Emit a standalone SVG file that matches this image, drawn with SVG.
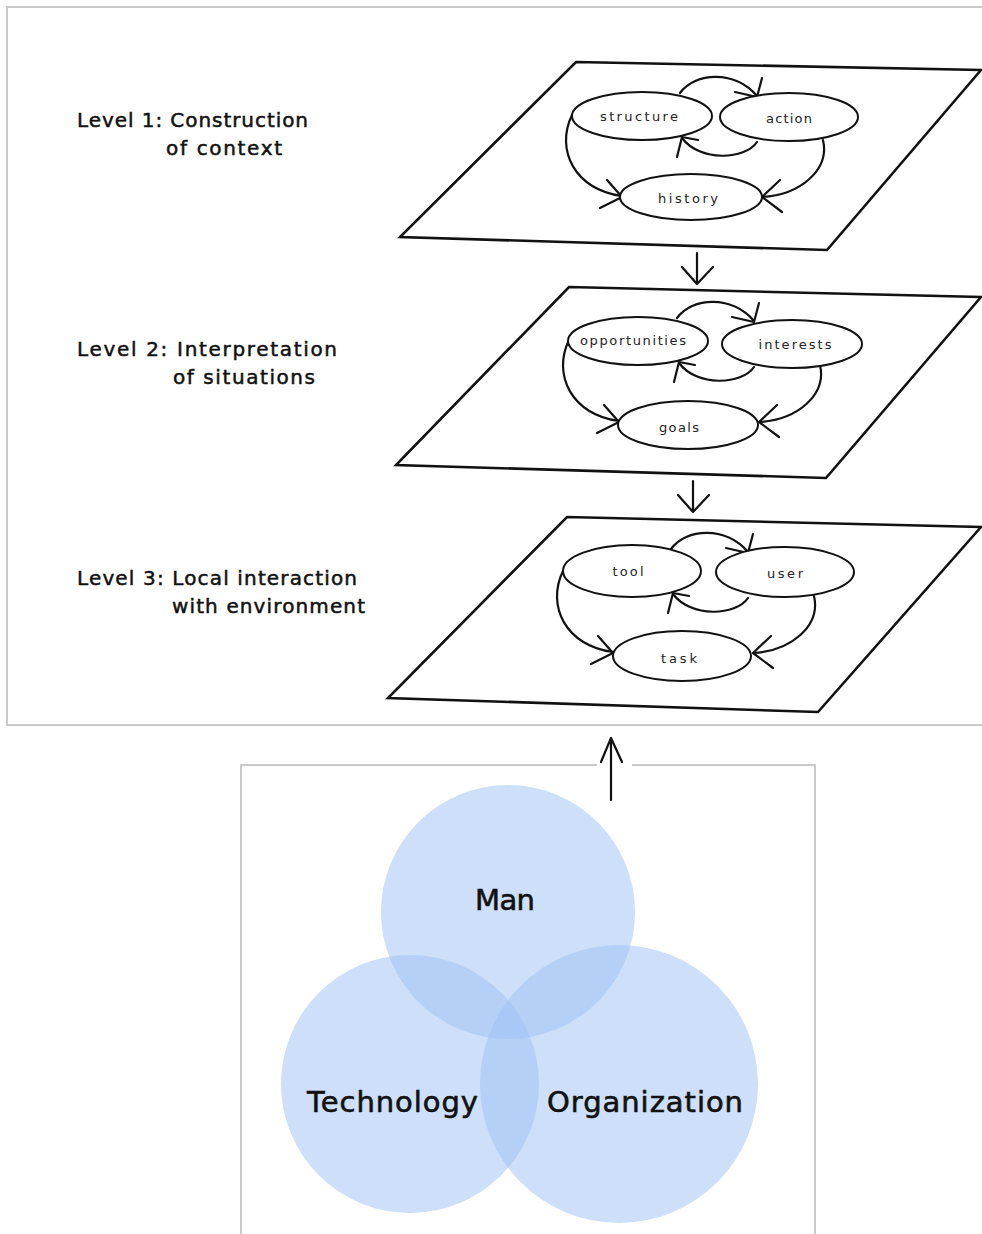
<svg xmlns="http://www.w3.org/2000/svg" xmlns:xlink="http://www.w3.org/1999/xlink" width="982" height="1234" viewBox="0 0 982 1234">
<style>
.frame{fill:none;stroke:#c9c9c9;stroke-width:2}
.plane{fill:#fff;stroke:#111;stroke-width:2.6;stroke-linejoin:miter}
.oval{fill:#fff;stroke:#111;stroke-width:2}
.ln{fill:none;stroke:#111;stroke-width:2.2;stroke-linecap:round;stroke-linejoin:round}
.lbl{font-family:"DejaVu Sans",Verdana,sans-serif;font-size:20px;fill:#111;stroke:#111;stroke-width:0.5}
.small{font-family:"DejaVu Sans",sans-serif;font-size:13px;fill:#222;text-anchor:middle}
.venn{fill:#9fc1f3;fill-opacity:0.52}
.vtxt{font-family:"DejaVu Sans",Verdana,sans-serif;font-size:29px;fill:#111;stroke:#111;stroke-width:0.6}
</style>
<defs>
<g id="loops" class="ln">
<path d="M680,93 C695,72 735,70 757,96"/>
<path d="M735,92 L757,97 L762,78"/>
<path d="M757,142 C745,160 700,162 682,138"/>
<path d="M677,157 L682,137 L698,140"/>
<path d="M572,115 C555,150 575,190 622,196"/>
<path d="M607,180 L622,197 L600,208"/>
<path d="M823,140 C830,170 800,195 762,197"/>
<path d="M780,180 L762,197 L782,212"/>
</g>
</defs>
<rect width="982" height="1234" fill="#fff"/>
<g id="frames">
<path class="frame" d="M982,7 L7,7 L7,725 L982,725"/>
<path class="frame" d="M241,1234 L241,765 L597,765 M632,765 L815,765 L815,1234"/>
</g>
<g id="plane1"><path class="plane" d="M576,62 L981,70 L827,250 L400,237 Z"/></g>
<g id="plane2"><path class="plane" d="M569,287 L981,297 L826,478 L396,465 Z"/></g>
<g id="plane3"><path class="plane" d="M567,517 L981,527 L818,712 L388,698 Z"/></g>
<g id="connectors">
<use xlink:href="#loops"/>
<use xlink:href="#loops" transform="translate(-3,225)"/>
<use xlink:href="#loops" transform="translate(-9,456)"/>
<g class="ln">
<path d="M697,253 L697,284 M682,267 L697,284 L713,267"/>
<path d="M693,481 L693,512 M678,495 L693,512 L709,495"/>
<path d="M611,800 L611,738 M601,762 L611,738 L622,762"/>
</g>
</g>
<g id="structure"><ellipse class="oval" cx="642" cy="116" rx="70" ry="24"/><text class="small" x="639" y="121" textLength="78">structure</text></g>
<g id="action"><ellipse class="oval" cx="789" cy="117" rx="69" ry="24"/><text class="small" x="789" y="123" textLength="46">action</text></g>
<g id="history"><ellipse class="oval" cx="691" cy="197" rx="71" ry="23"/><text class="small" x="688" y="203" textLength="60">history</text></g>
<g id="opportunities"><ellipse class="oval" cx="638" cy="341" rx="70" ry="24"/><text class="small" x="633" y="345" textLength="106">opportunities</text></g>
<g id="interests"><ellipse class="oval" cx="792" cy="344" rx="70" ry="24"/><text class="small" x="795" y="349" textLength="73">interests</text></g>
<g id="goals"><ellipse class="oval" cx="688" cy="425" rx="70" ry="24"/><text class="small" x="679" y="432" textLength="40">goals</text></g>
<g id="tool"><ellipse class="oval" cx="632" cy="571" rx="69" ry="26"/><text class="small" x="628" y="576" textLength="31">tool</text></g>
<g id="user"><ellipse class="oval" cx="785" cy="572" rx="69" ry="25"/><text class="small" x="785" y="578" textLength="36">user</text></g>
<g id="task"><ellipse class="oval" cx="682" cy="656" rx="69" ry="25"/><text class="small" x="679" y="663" textLength="36">task</text></g>
<g id="level1"><text class="lbl" x="77" y="127" textLength="231">Level 1: Construction</text><text class="lbl" x="166" y="155" textLength="116">of context</text></g>
<g id="level2"><text class="lbl" x="77" y="356" textLength="260">Level 2: Interpretation</text><text class="lbl" x="173" y="384" textLength="142">of situations</text></g>
<g id="level3"><text class="lbl" x="77" y="585" textLength="280">Level 3: Local interaction</text><text class="lbl" x="172" y="613" textLength="193">with environment</text></g>
<g id="man"><circle class="venn" cx="508" cy="912" r="127"/></g>
<g id="technology"><circle class="venn" cx="410" cy="1084" r="129"/></g>
<g id="organization"><circle class="venn" cx="619" cy="1084" r="139"/></g>
<g id="venn-labels">
<text class="vtxt" x="475" y="910" textLength="60">Man</text>
<text class="vtxt" x="307" y="1112" textLength="171">Technology</text>
<text class="vtxt" x="547" y="1112" textLength="196">Organization</text>
</g>
</svg>
